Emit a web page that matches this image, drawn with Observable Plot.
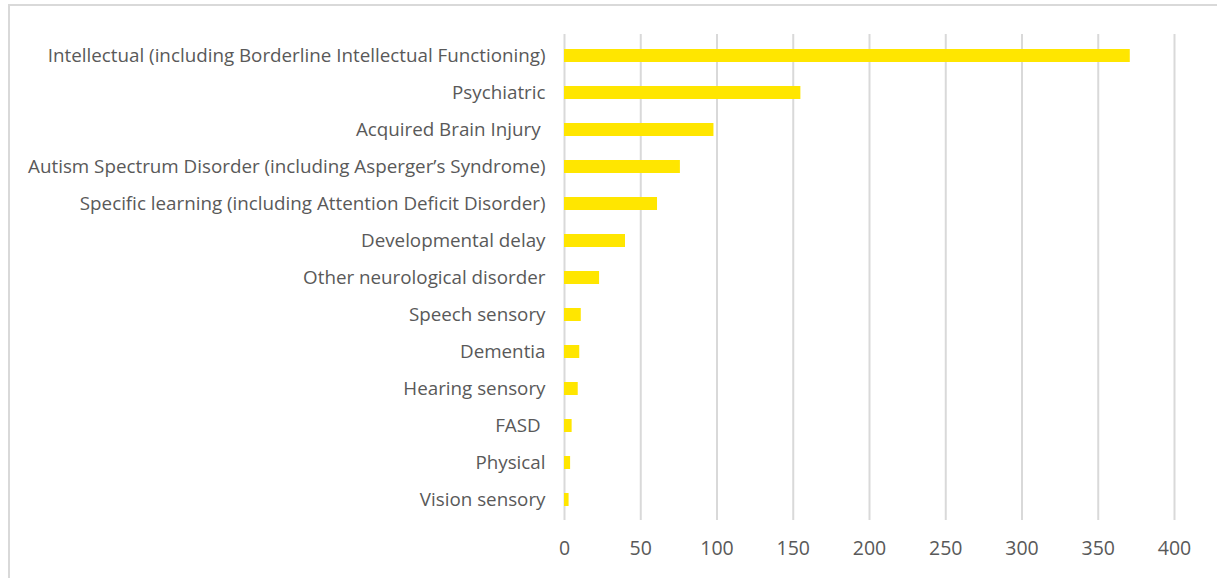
<!DOCTYPE html>
<html>
<head>
<meta charset="utf-8">
<script src="https://cdn.jsdelivr.net/npm/d3@7"></script>
<script src="https://cdn.jsdelivr.net/npm/@observablehq/plot@0.6"></script>
<style>
  html, body { margin: 0; padding: 0; background: #fff; }
  #wrap { position: relative; width: 1217px; height: 578px; overflow: hidden; }
  #frame { position: absolute; left: 8px; top: 4px; width: 1300px; height: 700px; border: 2px solid #d9d9d9; box-sizing: border-box; pointer-events: none; }
</style>
</head>
<body>
<div id="wrap"><div id="frame"></div></div>
<script>
const categories = [
  "Intellectual (including Borderline Intellectual Functioning)",
  "Psychiatric",
  "Acquired Brain Injury\u00A0",
  "Autism Spectrum Disorder (including Asperger\u2019s Syndrome)",
  "Specific learning (including Attention Deficit Disorder)",
  "Developmental delay",
  "Other neurological disorder",
  "Speech sensory",
  "Dementia",
  "Hearing sensory",
  "FASD\u00A0",
  "Physical",
  "Vision sensory"
];
const values = [371, 155, 98, 76, 61, 40, 23, 11, 10, 9, 5, 4, 3];
const xTicks = [0, 50, 100, 150, 200, 250, 300, 350, 400];

const data = categories.map((c, i) => ({category: c, value: values[i]}));

const chart = Plot.plot({
  width: 1217,
  height: 578,
  marginLeft: 564,
  marginRight: 43,
  marginTop: 34,
  marginBottom: 58,
  style: { fontFamily: "'Open Sans', sans-serif", color: "#595959", background: "transparent" },
  x: { domain: [0, 400] },
  y: { domain: categories, paddingInner: 0.65, paddingOuter: 0.325 },
  marks: [
    Plot.gridX(xTicks, { stroke: "#d9d9d9", strokeOpacity: 1, strokeWidth: 2 }),
    Plot.barX(data, { x: "value", y: "category", fill: "#ffe600" }),
    Plot.axisX({ ticks: xTicks, tickSize: 0, tickPadding: 21, fontSize: 19.5, label: null }),
    Plot.axisY({ tickSize: 0, tickPadding: 19, fontSize: 18.8, label: null })
  ]
});
document.getElementById("wrap").prepend(chart);
</script>
</body>
</html>
